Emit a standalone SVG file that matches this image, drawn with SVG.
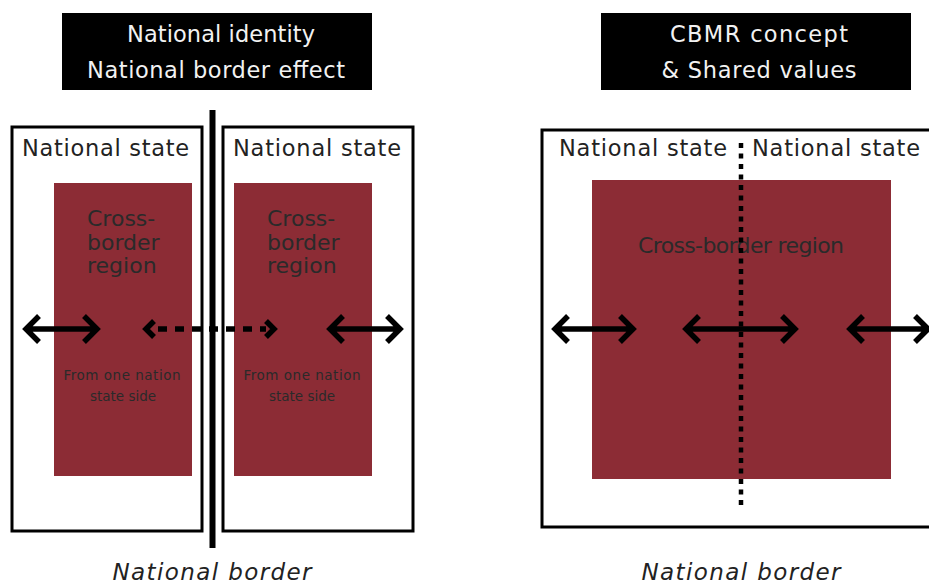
<svg xmlns="http://www.w3.org/2000/svg" width="929" height="585" viewBox="0 0 929 585">
<style>
.box{fill:#fff;stroke:#000;stroke-width:3}
.red{fill:#8c2c35}
.hdr{fill:#000}
.ht{font-family:"DejaVu Sans",sans-serif;font-size:22.5px;fill:#f2f2f2;text-anchor:middle}
.st{font-family:"DejaVu Sans",sans-serif;font-size:22.5px;fill:#222}
.cb{font-family:"DejaVu Sans",sans-serif;font-size:22px;fill:#2a2a2a}
.sm{font-family:"DejaVu Sans",sans-serif;font-size:13.5px;fill:#2a2a2a;text-anchor:middle}
.nb{font-family:"DejaVu Sans",sans-serif;font-size:23px;font-style:italic;fill:#222;text-anchor:middle}
.arr{fill:none;stroke:#000;stroke-width:5.5;stroke-linejoin:miter;stroke-linecap:butt}
.dash{fill:none;stroke:#000;stroke-width:5.5;stroke-dasharray:9 8}
.dot{fill:none;stroke:#000;stroke-width:4.5;stroke-dasharray:5 5.5}
</style>
<rect width="929" height="585" fill="#fff"/>

<g id="header-left">
<rect class="hdr" x="62" y="13" width="310" height="77"/>
<text class="ht" x="221" y="42" textLength="188">National identity</text>
<text class="ht" x="216" y="78" textLength="258">National border effect</text>
</g>
<g id="header-right">
<rect class="hdr" x="601" y="13" width="310" height="77"/>
<text class="ht" x="759" y="42" textLength="178">CBMR concept</text>
<text class="ht" x="759" y="78" textLength="195">&amp; Shared values</text>
</g>

<g id="state-left-1">
<rect class="box" x="12" y="127" width="190" height="404"/>
<text class="st" x="22" y="156" textLength="167">National  state</text>
<rect class="red" x="54" y="183" width="138" height="293"/>
<text class="cb" x="87" y="226">Cross-</text>
<text class="cb" x="87" y="250">border</text>
<text class="cb" x="87" y="273">region</text>
<text class="sm" x="122" y="380" textLength="117">From one nation</text>
<text class="sm" x="123" y="401">state side</text>
</g>

<g id="state-left-2">
<rect class="box" x="223" y="127" width="190" height="404"/>
<text class="st" x="233" y="156" textLength="168">National  state</text>
<rect class="red" x="234" y="183" width="138" height="293"/>
<text class="cb" x="267" y="226">Cross-</text>
<text class="cb" x="267" y="250">border</text>
<text class="cb" x="267" y="273">region</text>
<text class="sm" x="302" y="380" textLength="117">From one nation</text>
<text class="sm" x="302" y="401">state side</text>
</g>

<g id="national-border-left">
<rect x="209.5" y="110" width="6" height="438" fill="#000"/>
<text class="nb" x="212" y="580" textLength="199">National border</text>
</g>

<g id="cbmr-region">
<rect class="box" x="542" y="130" width="400" height="397"/>
<text class="st" x="559" y="156" textLength="168">National  state</text>
<text class="st" x="752" y="156" textLength="168">National  state</text>
<rect class="red" x="592" y="180" width="299" height="299"/>
<text class="cb" x="741" y="253" text-anchor="middle" textLength="206">Cross-border region</text>
<text class="nb" x="741" y="580" textLength="199">National border</text>
</g>

<g id="connectors">
<path class="arr" d="M27 329H96M39 316L26 329L39 342M84 316L97 329L84 342"/>
<path class="arr" d="M331 329H399M343 316L330 329L343 342M387 316L400 329L387 342"/>
<path class="dash" d="M158 329H266"/>
<path class="arr" d="M154 321L146 329L154 337M266 321L274 329L266 337"/>
<path class="dot" d="M741 143V505"/>
<path class="arr" d="M556 329H632M568 316L555 329L568 342M620 316L633 329L620 342"/>
<path class="arr" d="M687 329H794M699 316L686 329L699 342M782 316L795 329L782 342"/>
<path class="arr" d="M851 329H935M863 316L850 329L863 342M915 316L928 329L915 342"/>
</g>
</svg>
